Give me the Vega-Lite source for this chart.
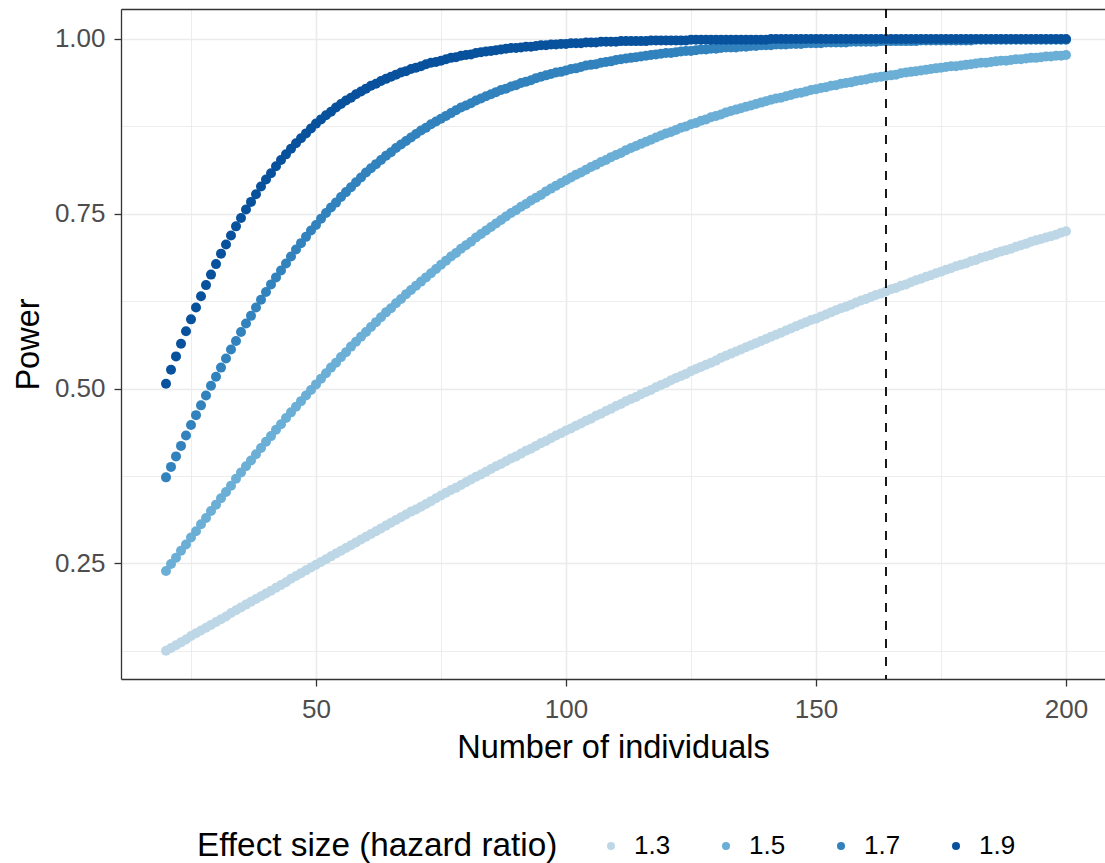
{
"$schema":"https://vega.github.io/schema/vega-lite/v6.json",
"autosize":{"type":"none"},
"width":984,"height":670,
"padding":{"left":121,"top":9,"right":0,"bottom":184},
"background":"white",
"config":{"font":"Liberation Sans","view":{"stroke":null}},
"resolve":{"axis":{"x":"independent"}},
"layer":[
{"data":{"values":[
{"n":20,"hr":"1.3","p":0.125},{"n":21,"hr":"1.3","p":0.129},{"n":22,"hr":"1.3","p":0.133},{"n":23,"hr":"1.3","p":0.137},{"n":24,"hr":"1.3","p":0.141},{"n":25,"hr":"1.3","p":0.146},{"n":26,"hr":"1.3","p":0.150},{"n":27,"hr":"1.3","p":0.154},{"n":28,"hr":"1.3","p":0.158},{"n":29,"hr":"1.3","p":0.162},
{"n":30,"hr":"1.3","p":0.166},{"n":31,"hr":"1.3","p":0.170},{"n":32,"hr":"1.3","p":0.174},{"n":33,"hr":"1.3","p":0.179},{"n":34,"hr":"1.3","p":0.183},{"n":35,"hr":"1.3","p":0.187},{"n":36,"hr":"1.3","p":0.191},{"n":37,"hr":"1.3","p":0.195},{"n":38,"hr":"1.3","p":0.199},{"n":39,"hr":"1.3","p":0.203},
{"n":40,"hr":"1.3","p":0.207},{"n":41,"hr":"1.3","p":0.211},{"n":42,"hr":"1.3","p":0.215},{"n":43,"hr":"1.3","p":0.219},{"n":44,"hr":"1.3","p":0.223},{"n":45,"hr":"1.3","p":0.228},{"n":46,"hr":"1.3","p":0.232},{"n":47,"hr":"1.3","p":0.236},{"n":48,"hr":"1.3","p":0.240},{"n":49,"hr":"1.3","p":0.244},
{"n":50,"hr":"1.3","p":0.248},{"n":51,"hr":"1.3","p":0.252},{"n":52,"hr":"1.3","p":0.256},{"n":53,"hr":"1.3","p":0.260},{"n":54,"hr":"1.3","p":0.264},{"n":55,"hr":"1.3","p":0.268},{"n":56,"hr":"1.3","p":0.272},{"n":57,"hr":"1.3","p":0.276},{"n":58,"hr":"1.3","p":0.280},{"n":59,"hr":"1.3","p":0.284},
{"n":60,"hr":"1.3","p":0.288},{"n":61,"hr":"1.3","p":0.292},{"n":62,"hr":"1.3","p":0.296},{"n":63,"hr":"1.3","p":0.300},{"n":64,"hr":"1.3","p":0.304},{"n":65,"hr":"1.3","p":0.308},{"n":66,"hr":"1.3","p":0.312},{"n":67,"hr":"1.3","p":0.316},{"n":68,"hr":"1.3","p":0.320},{"n":69,"hr":"1.3","p":0.324},
{"n":70,"hr":"1.3","p":0.327},{"n":71,"hr":"1.3","p":0.331},{"n":72,"hr":"1.3","p":0.335},{"n":73,"hr":"1.3","p":0.339},{"n":74,"hr":"1.3","p":0.343},{"n":75,"hr":"1.3","p":0.347},{"n":76,"hr":"1.3","p":0.351},{"n":77,"hr":"1.3","p":0.355},{"n":78,"hr":"1.3","p":0.358},{"n":79,"hr":"1.3","p":0.362},
{"n":80,"hr":"1.3","p":0.366},{"n":81,"hr":"1.3","p":0.370},{"n":82,"hr":"1.3","p":0.374},{"n":83,"hr":"1.3","p":0.377},{"n":84,"hr":"1.3","p":0.381},{"n":85,"hr":"1.3","p":0.385},{"n":86,"hr":"1.3","p":0.389},{"n":87,"hr":"1.3","p":0.392},{"n":88,"hr":"1.3","p":0.396},{"n":89,"hr":"1.3","p":0.400},
{"n":90,"hr":"1.3","p":0.403},{"n":91,"hr":"1.3","p":0.407},{"n":92,"hr":"1.3","p":0.411},{"n":93,"hr":"1.3","p":0.414},{"n":94,"hr":"1.3","p":0.418},{"n":95,"hr":"1.3","p":0.422},{"n":96,"hr":"1.3","p":0.425},{"n":97,"hr":"1.3","p":0.429},{"n":98,"hr":"1.3","p":0.433},{"n":99,"hr":"1.3","p":0.436},
{"n":100,"hr":"1.3","p":0.440},{"n":101,"hr":"1.3","p":0.443},{"n":102,"hr":"1.3","p":0.447},{"n":103,"hr":"1.3","p":0.450},{"n":104,"hr":"1.3","p":0.454},{"n":105,"hr":"1.3","p":0.457},{"n":106,"hr":"1.3","p":0.461},{"n":107,"hr":"1.3","p":0.464},{"n":108,"hr":"1.3","p":0.468},{"n":109,"hr":"1.3","p":0.471},
{"n":110,"hr":"1.3","p":0.475},{"n":111,"hr":"1.3","p":0.478},{"n":112,"hr":"1.3","p":0.482},{"n":113,"hr":"1.3","p":0.485},{"n":114,"hr":"1.3","p":0.488},{"n":115,"hr":"1.3","p":0.492},{"n":116,"hr":"1.3","p":0.495},{"n":117,"hr":"1.3","p":0.498},{"n":118,"hr":"1.3","p":0.502},{"n":119,"hr":"1.3","p":0.505},
{"n":120,"hr":"1.3","p":0.508},{"n":121,"hr":"1.3","p":0.512},{"n":122,"hr":"1.3","p":0.515},{"n":123,"hr":"1.3","p":0.518},{"n":124,"hr":"1.3","p":0.521},{"n":125,"hr":"1.3","p":0.525},{"n":126,"hr":"1.3","p":0.528},{"n":127,"hr":"1.3","p":0.531},{"n":128,"hr":"1.3","p":0.534},{"n":129,"hr":"1.3","p":0.537},
{"n":130,"hr":"1.3","p":0.540},{"n":131,"hr":"1.3","p":0.544},{"n":132,"hr":"1.3","p":0.547},{"n":133,"hr":"1.3","p":0.550},{"n":134,"hr":"1.3","p":0.553},{"n":135,"hr":"1.3","p":0.556},{"n":136,"hr":"1.3","p":0.559},{"n":137,"hr":"1.3","p":0.562},{"n":138,"hr":"1.3","p":0.565},{"n":139,"hr":"1.3","p":0.568},
{"n":140,"hr":"1.3","p":0.571},{"n":141,"hr":"1.3","p":0.574},{"n":142,"hr":"1.3","p":0.577},{"n":143,"hr":"1.3","p":0.580},{"n":144,"hr":"1.3","p":0.583},{"n":145,"hr":"1.3","p":0.586},{"n":146,"hr":"1.3","p":0.589},{"n":147,"hr":"1.3","p":0.592},{"n":148,"hr":"1.3","p":0.595},{"n":149,"hr":"1.3","p":0.598},
{"n":150,"hr":"1.3","p":0.600},{"n":151,"hr":"1.3","p":0.603},{"n":152,"hr":"1.3","p":0.606},{"n":153,"hr":"1.3","p":0.609},{"n":154,"hr":"1.3","p":0.612},{"n":155,"hr":"1.3","p":0.615},{"n":156,"hr":"1.3","p":0.617},{"n":157,"hr":"1.3","p":0.620},{"n":158,"hr":"1.3","p":0.623},{"n":159,"hr":"1.3","p":0.626},
{"n":160,"hr":"1.3","p":0.628},{"n":161,"hr":"1.3","p":0.631},{"n":162,"hr":"1.3","p":0.634},{"n":163,"hr":"1.3","p":0.636},{"n":164,"hr":"1.3","p":0.639},{"n":165,"hr":"1.3","p":0.642},{"n":166,"hr":"1.3","p":0.644},{"n":167,"hr":"1.3","p":0.647},{"n":168,"hr":"1.3","p":0.649},{"n":169,"hr":"1.3","p":0.652},
{"n":170,"hr":"1.3","p":0.655},{"n":171,"hr":"1.3","p":0.657},{"n":172,"hr":"1.3","p":0.660},{"n":173,"hr":"1.3","p":0.662},{"n":174,"hr":"1.3","p":0.665},{"n":175,"hr":"1.3","p":0.667},{"n":176,"hr":"1.3","p":0.670},{"n":177,"hr":"1.3","p":0.672},{"n":178,"hr":"1.3","p":0.675},{"n":179,"hr":"1.3","p":0.677},
{"n":180,"hr":"1.3","p":0.679},{"n":181,"hr":"1.3","p":0.682},{"n":182,"hr":"1.3","p":0.684},{"n":183,"hr":"1.3","p":0.687},{"n":184,"hr":"1.3","p":0.689},{"n":185,"hr":"1.3","p":0.691},{"n":186,"hr":"1.3","p":0.694},{"n":187,"hr":"1.3","p":0.696},{"n":188,"hr":"1.3","p":0.698},{"n":189,"hr":"1.3","p":0.700},
{"n":190,"hr":"1.3","p":0.703},{"n":191,"hr":"1.3","p":0.705},{"n":192,"hr":"1.3","p":0.707},{"n":193,"hr":"1.3","p":0.710},{"n":194,"hr":"1.3","p":0.712},{"n":195,"hr":"1.3","p":0.714},{"n":196,"hr":"1.3","p":0.716},{"n":197,"hr":"1.3","p":0.718},{"n":198,"hr":"1.3","p":0.720},{"n":199,"hr":"1.3","p":0.723},
{"n":200,"hr":"1.3","p":0.725},
{"n":20,"hr":"1.5","p":0.239},{"n":21,"hr":"1.5","p":0.249},{"n":22,"hr":"1.5","p":0.258},{"n":23,"hr":"1.5","p":0.268},{"n":24,"hr":"1.5","p":0.277},{"n":25,"hr":"1.5","p":0.287},{"n":26,"hr":"1.5","p":0.296},{"n":27,"hr":"1.5","p":0.306},{"n":28,"hr":"1.5","p":0.315},{"n":29,"hr":"1.5","p":0.325},
{"n":30,"hr":"1.5","p":0.334},{"n":31,"hr":"1.5","p":0.343},{"n":32,"hr":"1.5","p":0.352},{"n":33,"hr":"1.5","p":0.361},{"n":34,"hr":"1.5","p":0.371},{"n":35,"hr":"1.5","p":0.380},{"n":36,"hr":"1.5","p":0.389},{"n":37,"hr":"1.5","p":0.397},{"n":38,"hr":"1.5","p":0.406},{"n":39,"hr":"1.5","p":0.415},
{"n":40,"hr":"1.5","p":0.424},{"n":41,"hr":"1.5","p":0.432},{"n":42,"hr":"1.5","p":0.441},{"n":43,"hr":"1.5","p":0.449},{"n":44,"hr":"1.5","p":0.458},{"n":45,"hr":"1.5","p":0.466},{"n":46,"hr":"1.5","p":0.474},{"n":47,"hr":"1.5","p":0.482},{"n":48,"hr":"1.5","p":0.490},{"n":49,"hr":"1.5","p":0.498},
{"n":50,"hr":"1.5","p":0.506},{"n":51,"hr":"1.5","p":0.514},{"n":52,"hr":"1.5","p":0.522},{"n":53,"hr":"1.5","p":0.530},{"n":54,"hr":"1.5","p":0.537},{"n":55,"hr":"1.5","p":0.545},{"n":56,"hr":"1.5","p":0.552},{"n":57,"hr":"1.5","p":0.560},{"n":58,"hr":"1.5","p":0.567},{"n":59,"hr":"1.5","p":0.574},
{"n":60,"hr":"1.5","p":0.581},{"n":61,"hr":"1.5","p":0.588},{"n":62,"hr":"1.5","p":0.595},{"n":63,"hr":"1.5","p":0.602},{"n":64,"hr":"1.5","p":0.609},{"n":65,"hr":"1.5","p":0.615},{"n":66,"hr":"1.5","p":0.622},{"n":67,"hr":"1.5","p":0.628},{"n":68,"hr":"1.5","p":0.635},{"n":69,"hr":"1.5","p":0.641},
{"n":70,"hr":"1.5","p":0.647},{"n":71,"hr":"1.5","p":0.653},{"n":72,"hr":"1.5","p":0.659},{"n":73,"hr":"1.5","p":0.665},{"n":74,"hr":"1.5","p":0.671},{"n":75,"hr":"1.5","p":0.677},{"n":76,"hr":"1.5","p":0.683},{"n":77,"hr":"1.5","p":0.689},{"n":78,"hr":"1.5","p":0.694},{"n":79,"hr":"1.5","p":0.700},
{"n":80,"hr":"1.5","p":0.705},{"n":81,"hr":"1.5","p":0.710},{"n":82,"hr":"1.5","p":0.716},{"n":83,"hr":"1.5","p":0.721},{"n":84,"hr":"1.5","p":0.726},{"n":85,"hr":"1.5","p":0.731},{"n":86,"hr":"1.5","p":0.736},{"n":87,"hr":"1.5","p":0.741},{"n":88,"hr":"1.5","p":0.746},{"n":89,"hr":"1.5","p":0.751},
{"n":90,"hr":"1.5","p":0.755},{"n":91,"hr":"1.5","p":0.760},{"n":92,"hr":"1.5","p":0.764},{"n":93,"hr":"1.5","p":0.769},{"n":94,"hr":"1.5","p":0.773},{"n":95,"hr":"1.5","p":0.777},{"n":96,"hr":"1.5","p":0.782},{"n":97,"hr":"1.5","p":0.786},{"n":98,"hr":"1.5","p":0.790},{"n":99,"hr":"1.5","p":0.794},
{"n":100,"hr":"1.5","p":0.798},{"n":101,"hr":"1.5","p":0.802},{"n":102,"hr":"1.5","p":0.806},{"n":103,"hr":"1.5","p":0.809},{"n":104,"hr":"1.5","p":0.813},{"n":105,"hr":"1.5","p":0.817},{"n":106,"hr":"1.5","p":0.820},{"n":107,"hr":"1.5","p":0.824},{"n":108,"hr":"1.5","p":0.827},{"n":109,"hr":"1.5","p":0.831},
{"n":110,"hr":"1.5","p":0.834},{"n":111,"hr":"1.5","p":0.837},{"n":112,"hr":"1.5","p":0.841},{"n":113,"hr":"1.5","p":0.844},{"n":114,"hr":"1.5","p":0.847},{"n":115,"hr":"1.5","p":0.850},{"n":116,"hr":"1.5","p":0.853},{"n":117,"hr":"1.5","p":0.856},{"n":118,"hr":"1.5","p":0.859},{"n":119,"hr":"1.5","p":0.862},
{"n":120,"hr":"1.5","p":0.865},{"n":121,"hr":"1.5","p":0.867},{"n":122,"hr":"1.5","p":0.870},{"n":123,"hr":"1.5","p":0.873},{"n":124,"hr":"1.5","p":0.875},{"n":125,"hr":"1.5","p":0.878},{"n":126,"hr":"1.5","p":0.880},{"n":127,"hr":"1.5","p":0.883},{"n":128,"hr":"1.5","p":0.885},{"n":129,"hr":"1.5","p":0.888},
{"n":130,"hr":"1.5","p":0.890},{"n":131,"hr":"1.5","p":0.892},{"n":132,"hr":"1.5","p":0.895},{"n":133,"hr":"1.5","p":0.897},{"n":134,"hr":"1.5","p":0.899},{"n":135,"hr":"1.5","p":0.901},{"n":136,"hr":"1.5","p":0.903},{"n":137,"hr":"1.5","p":0.905},{"n":138,"hr":"1.5","p":0.907},{"n":139,"hr":"1.5","p":0.909},
{"n":140,"hr":"1.5","p":0.911},{"n":141,"hr":"1.5","p":0.913},{"n":142,"hr":"1.5","p":0.915},{"n":143,"hr":"1.5","p":0.916},{"n":144,"hr":"1.5","p":0.918},{"n":145,"hr":"1.5","p":0.920},{"n":146,"hr":"1.5","p":0.922},{"n":147,"hr":"1.5","p":0.923},{"n":148,"hr":"1.5","p":0.925},{"n":149,"hr":"1.5","p":0.927},
{"n":150,"hr":"1.5","p":0.928},{"n":151,"hr":"1.5","p":0.930},{"n":152,"hr":"1.5","p":0.931},{"n":153,"hr":"1.5","p":0.933},{"n":154,"hr":"1.5","p":0.934},{"n":155,"hr":"1.5","p":0.936},{"n":156,"hr":"1.5","p":0.937},{"n":157,"hr":"1.5","p":0.938},{"n":158,"hr":"1.5","p":0.940},{"n":159,"hr":"1.5","p":0.941},
{"n":160,"hr":"1.5","p":0.942},{"n":161,"hr":"1.5","p":0.944},{"n":162,"hr":"1.5","p":0.945},{"n":163,"hr":"1.5","p":0.946},{"n":164,"hr":"1.5","p":0.947},{"n":165,"hr":"1.5","p":0.948},{"n":166,"hr":"1.5","p":0.949},{"n":167,"hr":"1.5","p":0.951},{"n":168,"hr":"1.5","p":0.952},{"n":169,"hr":"1.5","p":0.953},
{"n":170,"hr":"1.5","p":0.954},{"n":171,"hr":"1.5","p":0.955},{"n":172,"hr":"1.5","p":0.956},{"n":173,"hr":"1.5","p":0.957},{"n":174,"hr":"1.5","p":0.958},{"n":175,"hr":"1.5","p":0.959},{"n":176,"hr":"1.5","p":0.960},{"n":177,"hr":"1.5","p":0.961},{"n":178,"hr":"1.5","p":0.961},{"n":179,"hr":"1.5","p":0.962},
{"n":180,"hr":"1.5","p":0.963},{"n":181,"hr":"1.5","p":0.964},{"n":182,"hr":"1.5","p":0.965},{"n":183,"hr":"1.5","p":0.966},{"n":184,"hr":"1.5","p":0.966},{"n":185,"hr":"1.5","p":0.967},{"n":186,"hr":"1.5","p":0.968},{"n":187,"hr":"1.5","p":0.969},{"n":188,"hr":"1.5","p":0.969},{"n":189,"hr":"1.5","p":0.970},
{"n":190,"hr":"1.5","p":0.971},{"n":191,"hr":"1.5","p":0.971},{"n":192,"hr":"1.5","p":0.972},{"n":193,"hr":"1.5","p":0.973},{"n":194,"hr":"1.5","p":0.973},{"n":195,"hr":"1.5","p":0.974},{"n":196,"hr":"1.5","p":0.975},{"n":197,"hr":"1.5","p":0.975},{"n":198,"hr":"1.5","p":0.976},{"n":199,"hr":"1.5","p":0.976},
{"n":200,"hr":"1.5","p":0.977},
{"n":20,"hr":"1.7","p":0.373},{"n":21,"hr":"1.7","p":0.388},{"n":22,"hr":"1.7","p":0.403},{"n":23,"hr":"1.7","p":0.418},{"n":24,"hr":"1.7","p":0.433},{"n":25,"hr":"1.7","p":0.448},{"n":26,"hr":"1.7","p":0.462},{"n":27,"hr":"1.7","p":0.476},{"n":28,"hr":"1.7","p":0.490},{"n":29,"hr":"1.7","p":0.504},
{"n":30,"hr":"1.7","p":0.517},{"n":31,"hr":"1.7","p":0.530},{"n":32,"hr":"1.7","p":0.543},{"n":33,"hr":"1.7","p":0.556},{"n":34,"hr":"1.7","p":0.568},{"n":35,"hr":"1.7","p":0.581},{"n":36,"hr":"1.7","p":0.593},{"n":37,"hr":"1.7","p":0.604},{"n":38,"hr":"1.7","p":0.616},{"n":39,"hr":"1.7","p":0.627},
{"n":40,"hr":"1.7","p":0.638},{"n":41,"hr":"1.7","p":0.649},{"n":42,"hr":"1.7","p":0.659},{"n":43,"hr":"1.7","p":0.669},{"n":44,"hr":"1.7","p":0.679},{"n":45,"hr":"1.7","p":0.689},{"n":46,"hr":"1.7","p":0.699},{"n":47,"hr":"1.7","p":0.708},{"n":48,"hr":"1.7","p":0.717},{"n":49,"hr":"1.7","p":0.726},
{"n":50,"hr":"1.7","p":0.734},{"n":51,"hr":"1.7","p":0.743},{"n":52,"hr":"1.7","p":0.751},{"n":53,"hr":"1.7","p":0.759},{"n":54,"hr":"1.7","p":0.766},{"n":55,"hr":"1.7","p":0.774},{"n":56,"hr":"1.7","p":0.781},{"n":57,"hr":"1.7","p":0.788},{"n":58,"hr":"1.7","p":0.795},{"n":59,"hr":"1.7","p":0.802},
{"n":60,"hr":"1.7","p":0.809},{"n":61,"hr":"1.7","p":0.815},{"n":62,"hr":"1.7","p":0.821},{"n":63,"hr":"1.7","p":0.827},{"n":64,"hr":"1.7","p":0.833},{"n":65,"hr":"1.7","p":0.838},{"n":66,"hr":"1.7","p":0.844},{"n":67,"hr":"1.7","p":0.849},{"n":68,"hr":"1.7","p":0.854},{"n":69,"hr":"1.7","p":0.859},
{"n":70,"hr":"1.7","p":0.864},{"n":71,"hr":"1.7","p":0.869},{"n":72,"hr":"1.7","p":0.873},{"n":73,"hr":"1.7","p":0.878},{"n":74,"hr":"1.7","p":0.882},{"n":75,"hr":"1.7","p":0.886},{"n":76,"hr":"1.7","p":0.890},{"n":77,"hr":"1.7","p":0.894},{"n":78,"hr":"1.7","p":0.898},{"n":79,"hr":"1.7","p":0.902},
{"n":80,"hr":"1.7","p":0.905},{"n":81,"hr":"1.7","p":0.908},{"n":82,"hr":"1.7","p":0.912},{"n":83,"hr":"1.7","p":0.915},{"n":84,"hr":"1.7","p":0.918},{"n":85,"hr":"1.7","p":0.921},{"n":86,"hr":"1.7","p":0.924},{"n":87,"hr":"1.7","p":0.927},{"n":88,"hr":"1.7","p":0.929},{"n":89,"hr":"1.7","p":0.932},
{"n":90,"hr":"1.7","p":0.934},{"n":91,"hr":"1.7","p":0.937},{"n":92,"hr":"1.7","p":0.939},{"n":93,"hr":"1.7","p":0.941},{"n":94,"hr":"1.7","p":0.944},{"n":95,"hr":"1.7","p":0.946},{"n":96,"hr":"1.7","p":0.948},{"n":97,"hr":"1.7","p":0.950},{"n":98,"hr":"1.7","p":0.952},{"n":99,"hr":"1.7","p":0.953},
{"n":100,"hr":"1.7","p":0.955},{"n":101,"hr":"1.7","p":0.957},{"n":102,"hr":"1.7","p":0.958},{"n":103,"hr":"1.7","p":0.960},{"n":104,"hr":"1.7","p":0.962},{"n":105,"hr":"1.7","p":0.963},{"n":106,"hr":"1.7","p":0.964},{"n":107,"hr":"1.7","p":0.966},{"n":108,"hr":"1.7","p":0.967},{"n":109,"hr":"1.7","p":0.968},
{"n":110,"hr":"1.7","p":0.970},{"n":111,"hr":"1.7","p":0.971},{"n":112,"hr":"1.7","p":0.972},{"n":113,"hr":"1.7","p":0.973},{"n":114,"hr":"1.7","p":0.974},{"n":115,"hr":"1.7","p":0.975},{"n":116,"hr":"1.7","p":0.976},{"n":117,"hr":"1.7","p":0.977},{"n":118,"hr":"1.7","p":0.978},{"n":119,"hr":"1.7","p":0.979},
{"n":120,"hr":"1.7","p":0.980},{"n":121,"hr":"1.7","p":0.980},{"n":122,"hr":"1.7","p":0.981},{"n":123,"hr":"1.7","p":0.982},{"n":124,"hr":"1.7","p":0.983},{"n":125,"hr":"1.7","p":0.983},{"n":126,"hr":"1.7","p":0.984},{"n":127,"hr":"1.7","p":0.985},{"n":128,"hr":"1.7","p":0.985},{"n":129,"hr":"1.7","p":0.986},
{"n":130,"hr":"1.7","p":0.986},{"n":131,"hr":"1.7","p":0.987},{"n":132,"hr":"1.7","p":0.988},{"n":133,"hr":"1.7","p":0.988},{"n":134,"hr":"1.7","p":0.988},{"n":135,"hr":"1.7","p":0.989},{"n":136,"hr":"1.7","p":0.989},{"n":137,"hr":"1.7","p":0.990},{"n":138,"hr":"1.7","p":0.990},{"n":139,"hr":"1.7","p":0.991},
{"n":140,"hr":"1.7","p":0.991},{"n":141,"hr":"1.7","p":0.991},{"n":142,"hr":"1.7","p":0.992},{"n":143,"hr":"1.7","p":0.992},{"n":144,"hr":"1.7","p":0.992},{"n":145,"hr":"1.7","p":0.993},{"n":146,"hr":"1.7","p":0.993},{"n":147,"hr":"1.7","p":0.993},{"n":148,"hr":"1.7","p":0.994},{"n":149,"hr":"1.7","p":0.994},
{"n":150,"hr":"1.7","p":0.994},{"n":151,"hr":"1.7","p":0.994},{"n":152,"hr":"1.7","p":0.995},{"n":153,"hr":"1.7","p":0.995},{"n":154,"hr":"1.7","p":0.995},{"n":155,"hr":"1.7","p":0.995},{"n":156,"hr":"1.7","p":0.995},{"n":157,"hr":"1.7","p":0.996},{"n":158,"hr":"1.7","p":0.996},{"n":159,"hr":"1.7","p":0.996},
{"n":160,"hr":"1.7","p":0.996},{"n":161,"hr":"1.7","p":0.996},{"n":162,"hr":"1.7","p":0.996},{"n":163,"hr":"1.7","p":0.997},{"n":164,"hr":"1.7","p":0.997},{"n":165,"hr":"1.7","p":0.997},{"n":166,"hr":"1.7","p":0.997},{"n":167,"hr":"1.7","p":0.997},{"n":168,"hr":"1.7","p":0.997},{"n":169,"hr":"1.7","p":0.997},
{"n":170,"hr":"1.7","p":0.997},{"n":171,"hr":"1.7","p":0.998},{"n":172,"hr":"1.7","p":0.998},{"n":173,"hr":"1.7","p":0.998},{"n":174,"hr":"1.7","p":0.998},{"n":175,"hr":"1.7","p":0.998},{"n":176,"hr":"1.7","p":0.998},{"n":177,"hr":"1.7","p":0.998},{"n":178,"hr":"1.7","p":0.998},{"n":179,"hr":"1.7","p":0.998},
{"n":180,"hr":"1.7","p":0.998},{"n":181,"hr":"1.7","p":0.998},{"n":182,"hr":"1.7","p":0.999},{"n":183,"hr":"1.7","p":0.999},{"n":184,"hr":"1.7","p":0.999},{"n":185,"hr":"1.7","p":0.999},{"n":186,"hr":"1.7","p":0.999},{"n":187,"hr":"1.7","p":0.999},{"n":188,"hr":"1.7","p":0.999},{"n":189,"hr":"1.7","p":0.999},
{"n":190,"hr":"1.7","p":0.999},{"n":191,"hr":"1.7","p":0.999},{"n":192,"hr":"1.7","p":0.999},{"n":193,"hr":"1.7","p":0.999},{"n":194,"hr":"1.7","p":0.999},{"n":195,"hr":"1.7","p":0.999},{"n":196,"hr":"1.7","p":0.999},{"n":197,"hr":"1.7","p":0.999},{"n":198,"hr":"1.7","p":0.999},{"n":199,"hr":"1.7","p":0.999},
{"n":200,"hr":"1.7","p":0.999},
{"n":20,"hr":"1.9","p":0.507},{"n":21,"hr":"1.9","p":0.527},{"n":22,"hr":"1.9","p":0.546},{"n":23,"hr":"1.9","p":0.564},{"n":24,"hr":"1.9","p":0.582},{"n":25,"hr":"1.9","p":0.599},{"n":26,"hr":"1.9","p":0.616},{"n":27,"hr":"1.9","p":0.632},{"n":28,"hr":"1.9","p":0.648},{"n":29,"hr":"1.9","p":0.663},
{"n":30,"hr":"1.9","p":0.678},{"n":31,"hr":"1.9","p":0.693},{"n":32,"hr":"1.9","p":0.706},{"n":33,"hr":"1.9","p":0.719},{"n":34,"hr":"1.9","p":0.732},{"n":35,"hr":"1.9","p":0.744},{"n":36,"hr":"1.9","p":0.756},{"n":37,"hr":"1.9","p":0.767},{"n":38,"hr":"1.9","p":0.778},{"n":39,"hr":"1.9","p":0.789},
{"n":40,"hr":"1.9","p":0.799},{"n":41,"hr":"1.9","p":0.808},{"n":42,"hr":"1.9","p":0.818},{"n":43,"hr":"1.9","p":0.827},{"n":44,"hr":"1.9","p":0.835},{"n":45,"hr":"1.9","p":0.843},{"n":46,"hr":"1.9","p":0.851},{"n":47,"hr":"1.9","p":0.858},{"n":48,"hr":"1.9","p":0.865},{"n":49,"hr":"1.9","p":0.872},
{"n":50,"hr":"1.9","p":0.879},{"n":51,"hr":"1.9","p":0.885},{"n":52,"hr":"1.9","p":0.891},{"n":53,"hr":"1.9","p":0.896},{"n":54,"hr":"1.9","p":0.902},{"n":55,"hr":"1.9","p":0.907},{"n":56,"hr":"1.9","p":0.912},{"n":57,"hr":"1.9","p":0.916},{"n":58,"hr":"1.9","p":0.921},{"n":59,"hr":"1.9","p":0.925},
{"n":60,"hr":"1.9","p":0.929},{"n":61,"hr":"1.9","p":0.933},{"n":62,"hr":"1.9","p":0.936},{"n":63,"hr":"1.9","p":0.940},{"n":64,"hr":"1.9","p":0.943},{"n":65,"hr":"1.9","p":0.946},{"n":66,"hr":"1.9","p":0.949},{"n":67,"hr":"1.9","p":0.952},{"n":68,"hr":"1.9","p":0.954},{"n":69,"hr":"1.9","p":0.957},
{"n":70,"hr":"1.9","p":0.959},{"n":71,"hr":"1.9","p":0.961},{"n":72,"hr":"1.9","p":0.964},{"n":73,"hr":"1.9","p":0.966},{"n":74,"hr":"1.9","p":0.967},{"n":75,"hr":"1.9","p":0.969},{"n":76,"hr":"1.9","p":0.971},{"n":77,"hr":"1.9","p":0.973},{"n":78,"hr":"1.9","p":0.974},{"n":79,"hr":"1.9","p":0.976},
{"n":80,"hr":"1.9","p":0.977},{"n":81,"hr":"1.9","p":0.978},{"n":82,"hr":"1.9","p":0.980},{"n":83,"hr":"1.9","p":0.981},{"n":84,"hr":"1.9","p":0.982},{"n":85,"hr":"1.9","p":0.983},{"n":86,"hr":"1.9","p":0.984},{"n":87,"hr":"1.9","p":0.985},{"n":88,"hr":"1.9","p":0.986},{"n":89,"hr":"1.9","p":0.987},
{"n":90,"hr":"1.9","p":0.987},{"n":91,"hr":"1.9","p":0.988},{"n":92,"hr":"1.9","p":0.989},{"n":93,"hr":"1.9","p":0.989},{"n":94,"hr":"1.9","p":0.990},{"n":95,"hr":"1.9","p":0.991},{"n":96,"hr":"1.9","p":0.991},{"n":97,"hr":"1.9","p":0.992},{"n":98,"hr":"1.9","p":0.992},{"n":99,"hr":"1.9","p":0.993},
{"n":100,"hr":"1.9","p":0.993},{"n":101,"hr":"1.9","p":0.994},{"n":102,"hr":"1.9","p":0.994},{"n":103,"hr":"1.9","p":0.994},{"n":104,"hr":"1.9","p":0.995},{"n":105,"hr":"1.9","p":0.995},{"n":106,"hr":"1.9","p":0.995},{"n":107,"hr":"1.9","p":0.996},{"n":108,"hr":"1.9","p":0.996},{"n":109,"hr":"1.9","p":0.996},
{"n":110,"hr":"1.9","p":0.996},{"n":111,"hr":"1.9","p":0.997},{"n":112,"hr":"1.9","p":0.997},{"n":113,"hr":"1.9","p":0.997},{"n":114,"hr":"1.9","p":0.997},{"n":115,"hr":"1.9","p":0.997},{"n":116,"hr":"1.9","p":0.997},{"n":117,"hr":"1.9","p":0.998},{"n":118,"hr":"1.9","p":0.998},{"n":119,"hr":"1.9","p":0.998},
{"n":120,"hr":"1.9","p":0.998},{"n":121,"hr":"1.9","p":0.998},{"n":122,"hr":"1.9","p":0.998},{"n":123,"hr":"1.9","p":0.998},{"n":124,"hr":"1.9","p":0.998},{"n":125,"hr":"1.9","p":0.999},{"n":126,"hr":"1.9","p":0.999},{"n":127,"hr":"1.9","p":0.999},{"n":128,"hr":"1.9","p":0.999},{"n":129,"hr":"1.9","p":0.999},
{"n":130,"hr":"1.9","p":0.999},{"n":131,"hr":"1.9","p":0.999},{"n":132,"hr":"1.9","p":0.999},{"n":133,"hr":"1.9","p":0.999},{"n":134,"hr":"1.9","p":0.999},{"n":135,"hr":"1.9","p":0.999},{"n":136,"hr":"1.9","p":0.999},{"n":137,"hr":"1.9","p":0.999},{"n":138,"hr":"1.9","p":0.999},{"n":139,"hr":"1.9","p":0.999},
{"n":140,"hr":"1.9","p":0.999},{"n":141,"hr":"1.9","p":1},{"n":142,"hr":"1.9","p":1},{"n":143,"hr":"1.9","p":1},{"n":144,"hr":"1.9","p":1},{"n":145,"hr":"1.9","p":1},{"n":146,"hr":"1.9","p":1},{"n":147,"hr":"1.9","p":1},{"n":148,"hr":"1.9","p":1},{"n":149,"hr":"1.9","p":1},
{"n":150,"hr":"1.9","p":1},{"n":151,"hr":"1.9","p":1},{"n":152,"hr":"1.9","p":1},{"n":153,"hr":"1.9","p":1},{"n":154,"hr":"1.9","p":1},{"n":155,"hr":"1.9","p":1},{"n":156,"hr":"1.9","p":1},{"n":157,"hr":"1.9","p":1},{"n":158,"hr":"1.9","p":1},{"n":159,"hr":"1.9","p":1},
{"n":160,"hr":"1.9","p":1},{"n":161,"hr":"1.9","p":1},{"n":162,"hr":"1.9","p":1},{"n":163,"hr":"1.9","p":1},{"n":164,"hr":"1.9","p":1},{"n":165,"hr":"1.9","p":1},{"n":166,"hr":"1.9","p":1},{"n":167,"hr":"1.9","p":1},{"n":168,"hr":"1.9","p":1},{"n":169,"hr":"1.9","p":1},
{"n":170,"hr":"1.9","p":1},{"n":171,"hr":"1.9","p":1},{"n":172,"hr":"1.9","p":1},{"n":173,"hr":"1.9","p":1},{"n":174,"hr":"1.9","p":1},{"n":175,"hr":"1.9","p":1},{"n":176,"hr":"1.9","p":1},{"n":177,"hr":"1.9","p":1},{"n":178,"hr":"1.9","p":1},{"n":179,"hr":"1.9","p":1},
{"n":180,"hr":"1.9","p":1},{"n":181,"hr":"1.9","p":1},{"n":182,"hr":"1.9","p":1},{"n":183,"hr":"1.9","p":1},{"n":184,"hr":"1.9","p":1},{"n":185,"hr":"1.9","p":1},{"n":186,"hr":"1.9","p":1},{"n":187,"hr":"1.9","p":1},{"n":188,"hr":"1.9","p":1},{"n":189,"hr":"1.9","p":1},
{"n":190,"hr":"1.9","p":1},{"n":191,"hr":"1.9","p":1},{"n":192,"hr":"1.9","p":1},{"n":193,"hr":"1.9","p":1},{"n":194,"hr":"1.9","p":1},{"n":195,"hr":"1.9","p":1},{"n":196,"hr":"1.9","p":1},{"n":197,"hr":"1.9","p":1},{"n":198,"hr":"1.9","p":1},{"n":199,"hr":"1.9","p":1},
{"n":200,"hr":"1.9","p":1}
]},
"mark":{"type":"circle","size":100,"opacity":1},
"encoding":{
"x":{"field":"n","type":"quantitative","scale":{"domain":[11,207.8],"nice":false,"zero":false},
"axis":{"title":"Number of individuals","values":[25,50,75,100,125,150,175,200],
"labelExpr":"datum.value % 50 === 0 ? datum.label : ''",
"tickOpacity":{"condition":{"test":"datum.value % 50 === 0","value":1},"value":0},
"gridWidth":{"condition":{"test":"datum.value % 50 === 0","value":1.6},"value":0.9},
"grid":true,"gridColor":"#EBEBEB","domain":true,"domainColor":"#333333","domainWidth":1.3,"tickColor":"#333333","tickSize":7,"tickWidth":1.3,
"labelFontSize":26,"labelColor":"#4D4D4D","labelPadding":10,"labelFlush":false,
"titleFontSize":32.5,"titleColor":"black","titleFontWeight":"normal","titleY":78,"titleBaseline":"alphabetic"}},
"y":{"field":"p","type":"quantitative","scale":{"domain":[0.0846,1.0429],"nice":false,"zero":false},
"axis":{"title":"Power","values":[0.125,0.25,0.375,0.5,0.625,0.75,0.875,1],"format":".2f",
"labelExpr":"datum.value * 4 === round(datum.value * 4) ? datum.label : ''",
"tickOpacity":{"condition":{"test":"datum.value * 4 === round(datum.value * 4)","value":1},"value":0},
"gridWidth":{"condition":{"test":"datum.value * 4 === round(datum.value * 4)","value":1.6},"value":0.9},
"grid":true,"gridColor":"#EBEBEB","domain":true,"domainColor":"#333333","domainWidth":1.3,"tickColor":"#333333","tickSize":7,"tickWidth":1.3,
"labelFontSize":26,"labelColor":"#4D4D4D","labelPadding":9,"labelFlush":false,
"titleFontSize":32.5,"titleColor":"black","titleFontWeight":"normal","titleX":-83,"titleY":335,"titleAngle":-90,"titleBaseline":"alphabetic","titleAlign":"center"}},
"color":{"field":"hr","type":"nominal",
"scale":{"domain":["1.3","1.5","1.7","1.9"],"range":["#BDD7E7","#6BAED6","#3182BD","#08519C"]},
"legend":{"title":"Effect size (hazard ratio)","orient":"none","legendX":76,"legendY":824,"direction":"horizontal",
"titleOrient":"left","titleFontSize":33.3,"titleFontWeight":"normal","titleColor":"black","titlePadding":40,"titleBaseline":"middle","titleLimit":2000,
"labelFontSize":26,"labelColor":"black","labelOffset":10,"labelLimit":500,
"symbolType":"circle","symbolSize":64,"symbolStrokeWidth":0,"symbolOpacity":1,"columnPadding":42,"padding":0}}
}},
{"data":{"values":[{"n":164}]},
"mark":{"type":"rule","color":"black","strokeWidth":1.8,"strokeDash":[9,9]},
"encoding":{"x":{"field":"n","type":"quantitative",
"axis":{"orient":"top","title":null,"labels":false,"ticks":false,"grid":false,"domain":true,"domainColor":"#333333","domainWidth":1.3}}}}
]
}
